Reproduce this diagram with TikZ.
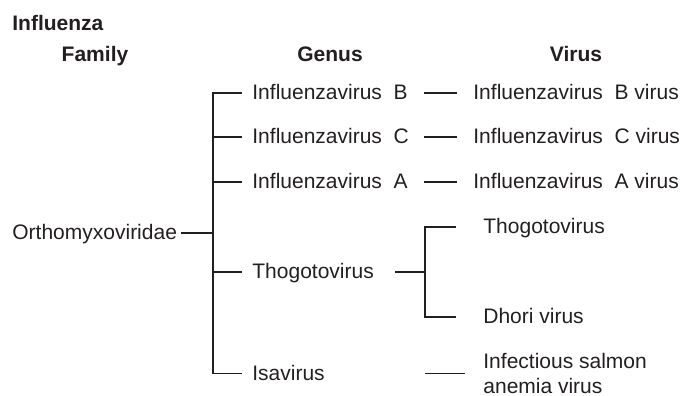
\documentclass[tikz,border=0pt]{standalone}
\usepackage{fontspec}
\setmainfont{Liberation Sans}
\usetikzlibrary{positioning}

\definecolor{ink}{HTML}{231F20}

\begin{document}
\begin{tikzpicture}[x=0.5pt,y=-0.5pt,
    every node/.style={inner sep=0pt, text height=0.66em, text depth=0pt,
        text=ink, font=\fontsize{10.5}{12.5}\selectfont},
    label/.style={anchor=west},
    head/.style={anchor=center, font=\fontsize{10.5}{12.5}\selectfont\bfseries},
    genus/.style={anchor=west, inner xsep=5pt},
    virus/.style={anchor=west, inner xsep=8pt},
    branch/.style={ink, line width=0.65pt}]
    \useasboundingbox (0,0) rectangle (697,396);

    % headings
    \node [label, font=\fontsize{10.5}{12.5}\selectfont\bfseries] (title) at (12,23.5) {Influenza};
    \node [head] (hfam) at (95,55) {Family};
    \node [head] (hgen) at (330,55) {Genus};
    \node [head] (hvir) at (576,55) {Virus};

    % family
    \node [label] (fam) at (12,233) {Orthomyxoviridae};
    \coordinate (fj) at (213,233);

    % genera
    \node [genus] (gB) at (242,93) {Influenzavirus\ \ B};
    \node [genus] (gC) at (242,137) {Influenzavirus\ \ C};
    \node [genus] (gA) at (242,182) {Influenzavirus\ \ A};
    \node [genus] (gT) at (242,272) {Thogotovirus};
    \node [genus] (gI) at (242,373.5) {Isavirus};

    % viruses
    \node [virus] (vB) at (457,93) {Influenzavirus\ \ B virus};
    \node [virus] (vC) at (457,137) {Influenzavirus\ \ C virus};
    \node [virus] (vA) at (457,182) {Influenzavirus\ \ A virus};
    \node [virus, inner xsep=13.5pt] (vT) at (456,227) {Thogotovirus};
    \node [virus, inner xsep=13.5pt] (vD) at (456,317) {Dhori virus};
    \node [virus, inner xsep=9pt, text height=19.5pt, align=left] (vI) at (465,373.5)
        {Infectious salmon\\anemia virus};

    \coordinate (dl) at (424,0);
    \coordinate (ts) at (395,272);
    \coordinate (tj) at (425,272);

    % family to genera
    \draw [branch, shorten <=2pt] (fam) -- (fj);
    \foreach \g in {gB,gC,gA,gT,gI}
        \draw [branch] (fj) |- (\g.west);

    % genera to viruses
    \foreach \v in {vB,vC,vA}
        \draw [branch] (\v.west) -- (\v.west -| dl);
    \draw [branch] (ts) -- (tj);
    \draw [branch] (tj) |- (vT.west);
    \draw [branch] (tj) |- (vD.west);
    \draw [branch] (vI.west) -- (vI.west -| tj);
\end{tikzpicture}
\end{document}
